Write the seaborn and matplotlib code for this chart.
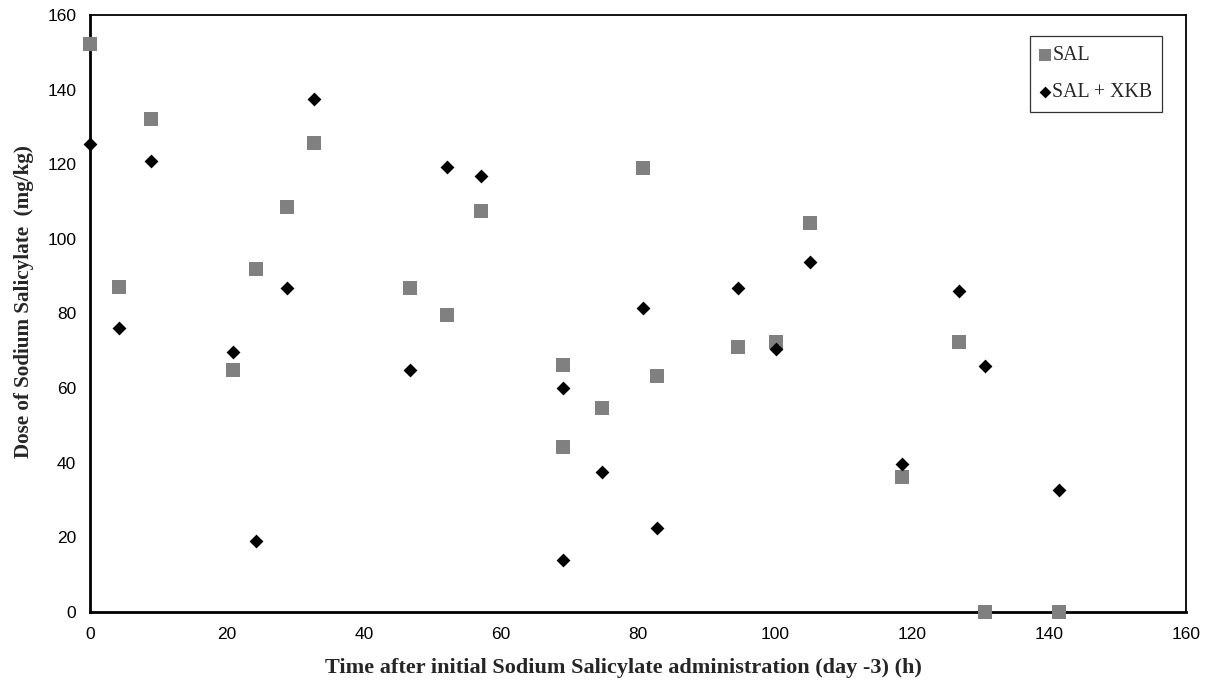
import matplotlib
matplotlib.use("Agg")
import matplotlib.pyplot as plt
import seaborn as sns
import pandas as pd

# Sampling times (h) after the first sodium salicylate dose
time_h = [0, 4.2, 8.9, 20.9, 24.3, 28.7, 32.7, 46.7, 52.1, 57.1, 69.0, 69.0,
          74.7, 80.7, 82.8, 94.6, 100.1, 105.1, 118.6, 126.8, 130.6, 141.5]

# Dose of sodium salicylate (mg/kg) per group
sal_dose = [152.2, 87.2, 132.0, 64.9, 91.9, 108.5, 125.8, 86.7, 79.7, 107.4, 66.1, 44.1,
            54.6, 119.1, 63.3, 70.9, 72.4, 104.3, 36.1, 72.3, 0.0, 0.0]
xkb_dose = [125.4, 76.0, 120.8, 69.8, 19.1, 86.7, 137.6, 64.9, 119.2, 116.9, 60.0, 13.9,
            37.6, 81.6, 22.6, 86.8, 70.5, 93.8, 39.6, 86.1, 65.9, 32.7]

group_labels = ["SAL", "SAL + XKB"]
x_ticks = [0, 20, 40, 60, 80, 100, 120, 140, 160]
y_ticks = [0, 20, 40, 60, 80, 100, 120, 140, 160]

sns.set_style("white")
plt.rcParams["font.family"] = ["Liberation Sans", "DejaVu Sans"]

df = pd.concat([
    pd.DataFrame({"time": time_h, "dose": sal_dose, "group": group_labels[0]}),
    pd.DataFrame({"time": time_h, "dose": xkb_dose, "group": group_labels[1]}),
], ignore_index=True)

fig = plt.figure(figsize=(12.2, 6.89), dpi=100)
ax = fig.add_axes([0.0738, 0.1118, 0.8983, 0.8664])

sns.scatterplot(data=df[df.group == group_labels[0]], x="time", y="dose",
                marker="s", color="#808080", s=88, linewidth=0,
                label=group_labels[0], ax=ax, clip_on=False, zorder=3)
sns.scatterplot(data=df[df.group == group_labels[1]], x="time", y="dose",
                marker="D", color="black", s=50, linewidth=0,
                label=group_labels[1], ax=ax, clip_on=False, zorder=4)

ax.set_xlim(0, 160)
ax.set_ylim(0, 160)
ax.set_xticks(x_ticks)
ax.set_yticks(y_ticks)
ax.tick_params(axis="both", direction="out", length=5, width=1, color="black",
               labelsize=12.5, pad=5, labelcolor="black")
ax.tick_params(axis="x", pad=6)

for name, sp in ax.spines.items():
    sp.set_visible(True)
    sp.set_color("black")
    sp.set_linewidth(1.3)
ax.spines["left"].set_linewidth(2)
ax.spines["bottom"].set_linewidth(2)

serif = ["Liberation Serif", "DejaVu Serif"]
ax.set_xlabel("Time after initial Sodium Salicylate administration (day -3) (h)",
              family=serif, fontweight="bold", fontsize=16)
ax.set_ylabel("Dose of Sodium Salicylate  (mg/kg)",
              family=serif, fontweight="bold", fontsize=15.2)
ax.xaxis.set_label_coords(0.487, -0.077)
ax.yaxis.set_label_coords(-0.051, 0.52)

leg = ax.legend(loc="upper right", bbox_to_anchor=(0.9785, 0.965),
                frameon=True, fancybox=False, shadow=False,
                prop={"family": serif, "size": 14.3},
                handletextpad=0.1, borderpad=0.5, labelspacing=0.9,
                handlelength=0.5, markerscale=0.85, borderaxespad=0)
frame = leg.get_frame()
frame.set_edgecolor("black")
frame.set_linewidth(0.9)

fig.savefig("out.png", dpi=100, facecolor="white")
